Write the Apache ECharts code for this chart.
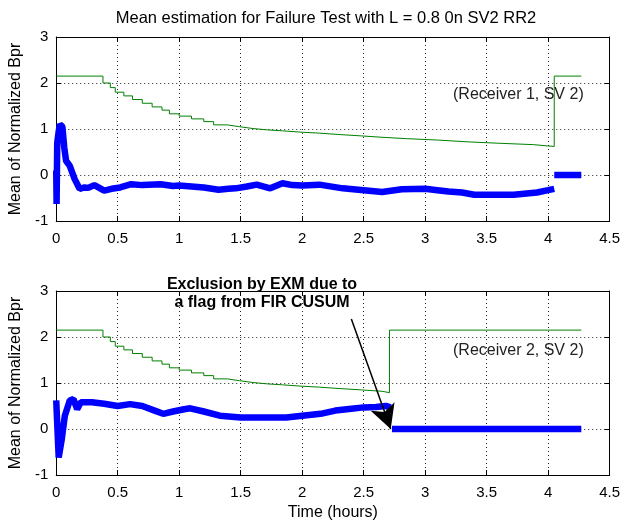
<!DOCTYPE html>
<html>
<head>
<meta charset="utf-8">
<script src="https://cdn.jsdelivr.net/npm/echarts@6/dist/echarts.min.js"></script>
<style>
  html, body { margin: 0; padding: 0; background: #fff; }
  #chart { width: 623px; height: 522px; }
</style>
</head>
<body>
<div id="chart"></div>
<script>
// tick labels
var xTicks = [0, 0.5, 1, 1.5, 2, 2.5, 3, 3.5, 4, 4.5];
var yTicks = [-1, 0, 1, 2, 3];

// blue: mean of normalized Bpr, receiver 1 (null = break in the line)
var meanRx1 = [
  [0, 0.1], [0.003, -0.63], [0.008, 0.7], [0.02, 0.95], [0.03, 1.1], [0.05, 1.05],
  [0.065, 0.6], [0.08, 0.31], [0.11, 0.2], [0.15, -0.09], [0.19, -0.3], [0.23, -0.27],
  [0.26, -0.28], [0.31, -0.22], [0.35, -0.28], [0.39, -0.34], [0.45, -0.3], [0.52, -0.27],
  [0.61, -0.2], [0.7, -0.22], [0.85, -0.2], [0.95, -0.24], [1.0, -0.23], [1.1, -0.25],
  [1.2, -0.27], [1.32, -0.32], [1.4, -0.3], [1.46, -0.29], [1.55, -0.25], [1.63, -0.21],
  [1.74, -0.29], [1.84, -0.18], [1.92, -0.22], [2.0, -0.23], [2.14, -0.21], [2.33, -0.29],
  [2.5, -0.33], [2.65, -0.37], [2.81, -0.31], [3.0, -0.3], [3.1, -0.33], [3.19, -0.36],
  [3.3, -0.38], [3.4, -0.43], [3.55, -0.43], [3.72, -0.43], [3.91, -0.38], [4.0, -0.33],
  [4.05, -0.3], null, [4.05, 0], [4.27, 0]
];

// blue: receiver 2
var meanRx2 = [
  [0, 0.62], [0.005, 0.3], [0.02, -0.62], [0.045, -0.22], [0.07, 0.29], [0.11, 0.62],
  [0.14, 0.65], [0.17, 0.43], [0.2, 0.58], [0.29, 0.58], [0.39, 0.55], [0.5, 0.5],
  [0.6, 0.54], [0.7, 0.5], [0.8, 0.4], [0.87, 0.33], [0.95, 0.38], [1.04, 0.43],
  [1.09, 0.45], [1.2, 0.38], [1.33, 0.29], [1.5, 0.25], [1.7, 0.25], [1.87, 0.25],
  [2.0, 0.29], [2.15, 0.33], [2.27, 0.4], [2.4, 0.44], [2.5, 0.47], [2.6, 0.48],
  [2.68, 0.5], [2.72, 0.47], null, [2.73, 0], [4.27, 0]
];

// green: threshold (step line)
var threshRx1 = [
  [0, 2.15], [0.38, 2.0], [0.44, 1.9], [0.48, 1.8], [0.55, 1.72], [0.62, 1.64],
  [0.7, 1.56], [0.78, 1.48], [0.86, 1.41], [0.92, 1.33], [1.0, 1.28], [1.1, 1.22],
  [1.2, 1.16], [1.28, 1.09], [1.39, 1.05], [1.49, 1.01], [1.6, 0.98], [1.72, 0.96],
  [1.84, 0.93], [2.0, 0.91], [2.14, 0.88], [2.3, 0.85], [2.48, 0.82], [2.65, 0.79],
  [2.85, 0.76], [3.1, 0.72], [3.35, 0.69], [3.6, 0.66], [3.88, 0.62], [4.05, 2.15], [4.27, 2.15]
];
var threshRx2 = [
  [0, 2.15], [0.38, 2.0], [0.44, 1.9], [0.48, 1.8], [0.55, 1.72], [0.62, 1.64],
  [0.7, 1.56], [0.78, 1.48], [0.86, 1.41], [0.92, 1.33], [1.0, 1.28], [1.1, 1.22],
  [1.2, 1.16], [1.28, 1.09], [1.39, 1.05], [1.49, 1.01], [1.6, 0.98], [1.72, 0.96],
  [1.84, 0.93], [2.0, 0.91], [2.14, 0.88], [2.3, 0.85], [2.48, 0.82], [2.65, 0.79],
  [2.71, 2.15], [4.27, 2.15]
];

// arrow of the annotation, from text to exclusion point
var arrowFrom = [2.40, 2.39];
var arrowTo = [2.72, 0];

var FONT = "'Liberation Sans', Arial, sans-serif";

function xAxis(grid, top, name) {
  return {
    type: 'value', gridIndex: grid, position: top ? 'top' : 'bottom',
    min: xTicks[0], max: xTicks[xTicks.length - 1], interval: 0.5,
    name: name || '', nameLocation: 'middle', nameGap: 30,
    nameTextStyle: { color: '#000', fontSize: 16, fontFamily: FONT },
    axisLine: { show: true, onZero: false, lineStyle: { color: '#000', width: 1 } },
    axisTick: { show: true, inside: true, length: 5, lineStyle: { color: '#000' } },
    axisLabel: { show: !top, color: '#000', fontSize: 15, fontFamily: FONT, margin: 10 },
    splitLine: { show: !top, lineStyle: { color: '#222', width: 1, type: [1, 3] } }
  };
}
function yAxis(grid, right) {
  return {
    type: 'value', gridIndex: grid, position: right ? 'right' : 'left',
    min: yTicks[0], max: yTicks[yTicks.length - 1], interval: 1,
    name: right ? '' : 'Mean of Normalized Bpr', nameLocation: 'middle', nameGap: 21,
    nameTextStyle: { color: '#000', fontSize: 16, fontFamily: FONT },
    axisLine: { show: true, onZero: false, lineStyle: { color: '#000', width: 1 } },
    axisTick: { show: true, inside: true, length: 5, lineStyle: { color: '#000' } },
    axisLabel: { show: !right, color: '#000', fontSize: 15, fontFamily: FONT, margin: 8 },
    splitLine: { show: !right, lineStyle: { color: '#222', width: 1, type: [1, 3] } }
  };
}

var chart = echarts.init(document.getElementById('chart'), null, { renderer: 'canvas' });

chart.setOption({
  animation: false,
  backgroundColor: '#fff',
  grid: [
    { left: 51, right: 13, top: 37, height: 184 },
    { left: 51, right: 13, top: 291, height: 185 }
  ],
  xAxis: [xAxis(0, false), xAxis(1, false, 'Time (hours)'), xAxis(0, true), xAxis(1, true)],
  yAxis: [yAxis(0, false), yAxis(1, false), yAxis(0, true), yAxis(1, true)],
  series: [
    {
      type: 'line', xAxisIndex: 0, yAxisIndex: 0, data: threshRx1, step: 'end',
      showSymbol: false, lineStyle: { color: '#008000', width: 1 }, silent: true
    },
    {
      type: 'line', xAxisIndex: 0, yAxisIndex: 0, data: meanRx1, connectNulls: false,
      showSymbol: false, lineStyle: { color: '#0000ff', width: 6.5 }, silent: true
    },
    {
      type: 'line', xAxisIndex: 1, yAxisIndex: 1, data: threshRx2, step: 'end',
      showSymbol: false, lineStyle: { color: '#008000', width: 1 }, silent: true
    },
    {
      type: 'line', xAxisIndex: 1, yAxisIndex: 1, data: meanRx2, connectNulls: false,
      showSymbol: false, lineStyle: { color: '#0000ff', width: 6.5 }, silent: true,
      markLine: {
        silent: true, animation: false,
        symbol: ['none', 'arrow'], symbolSize: [19, 24],
        label: { show: false },
        lineStyle: { color: '#000', width: 1.5, type: 'solid' },
        data: [[{ coord: arrowFrom }, { coord: arrowTo }]]
      }
    }
  ],
  graphic: [
    {
      type: 'text', x: 326, y: 10,
      style: {
        text: 'Mean estimation for Failure Test with L = 0.8 0n SV2 RR2',
        fill: '#000', font: '16.5px ' + FONT, align: 'center'
      }
    },
    {
      type: 'text', left: 453, top: 87,
      style: { text: '(Receiver 1, SV 2)', fill: '#222', font: '16px ' + FONT }
    },
    {
      type: 'text', left: 453, top: 343,
      style: { text: '(Receiver 2, SV 2)', fill: '#222', font: '16px ' + FONT }
    },
    {
      type: 'text', x: 262, y: 276,
      style: {
        text: 'Exclusion by EXM due to\na flag from FIR CUSUM',
        fill: '#000', font: 'bold 16px ' + FONT, align: 'center', lineHeight: 18
      }
    }
  ]
});
</script>
</body>
</html>
